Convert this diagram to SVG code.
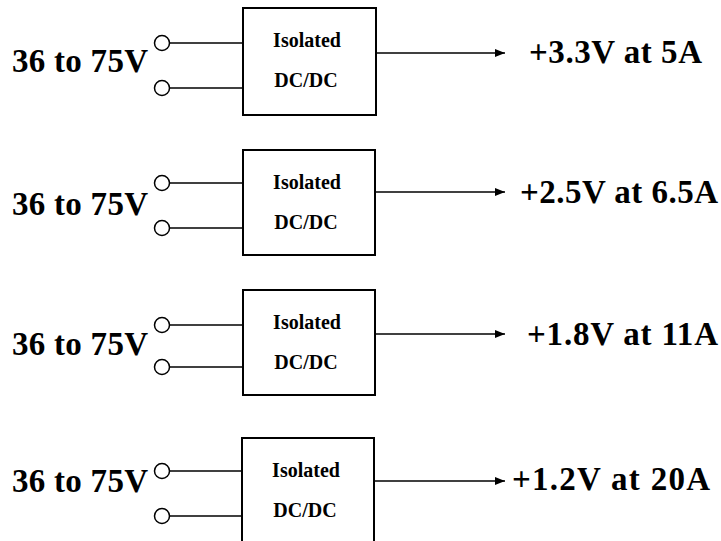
<svg xmlns="http://www.w3.org/2000/svg" width="721" height="541" viewBox="0 0 721 541">
  <style>
    .box { fill: #ffffff; stroke: #000000; stroke-width: 2; }
    .term { fill: #ffffff; stroke: #000000; stroke-width: 1.5; }
    .wire { fill: none; stroke: #000000; stroke-width: 1.4; }
    .in, .out { font-family: "Liberation Serif", "Times New Roman", serif; font-weight: bold; font-size: 33px; fill: #000000; }
    .lbl { font-family: "Liberation Serif", "Times New Roman", serif; font-weight: bold; font-size: 20px; fill: #000000; text-anchor: middle; }
  </style>
  <defs>
    <marker id="arrow" viewBox="0 0 10 8" refX="10" refY="4" markerWidth="10" markerHeight="8" markerUnits="userSpaceOnUse" orient="auto">
      <path d="M0,0 L10,4 L0,8 z" fill="#000000"/>
    </marker>
  </defs>
  <rect width="721" height="541" fill="#ffffff"/>

  <!-- connectors: input wires and output arrows -->
  <g id="connectors">
    <line class="wire" x1="170" y1="43" x2="243" y2="43"/>
    <line class="wire" x1="170" y1="88" x2="243" y2="88"/>
    <line class="wire" x1="376" y1="53" x2="505" y2="53" marker-end="url(#arrow)"/>

    <line class="wire" x1="170" y1="183" x2="243" y2="183"/>
    <line class="wire" x1="170" y1="228" x2="243" y2="228"/>
    <line class="wire" x1="375" y1="192" x2="505" y2="192" marker-end="url(#arrow)"/>

    <line class="wire" x1="170" y1="325" x2="243" y2="325"/>
    <line class="wire" x1="170" y1="367" x2="243" y2="367"/>
    <line class="wire" x1="375" y1="334" x2="505" y2="334" marker-end="url(#arrow)"/>

    <line class="wire" x1="170" y1="471" x2="242" y2="471"/>
    <line class="wire" x1="170" y1="516" x2="242" y2="516"/>
    <line class="wire" x1="374" y1="481" x2="505" y2="481" marker-end="url(#arrow)"/>
  </g>

  <!-- converter 1 -->
  <g id="conv1">
    <text class="in" x="12" y="72" textLength="136" lengthAdjust="spacing">36 to 75V</text>
    <circle class="term" cx="162" cy="43" r="7.5"/>
    <circle class="term" cx="162" cy="88" r="7.5"/>
    <rect class="box" x="243" y="8" width="133" height="107"/>
    <text class="lbl" x="307" y="47">Isolated</text>
    <text class="lbl" x="306" y="87">DC/DC</text>
    <text class="out" x="529" y="63" textLength="173" lengthAdjust="spacing">+3.3V at 5A</text>
  </g>

  <!-- converter 2 -->
  <g id="conv2">
    <text class="in" x="12" y="215" textLength="136" lengthAdjust="spacing">36 to 75V</text>
    <circle class="term" cx="162" cy="183" r="7.5"/>
    <circle class="term" cx="162" cy="228" r="7.5"/>
    <rect class="box" x="243" y="150" width="132" height="105"/>
    <text class="lbl" x="307" y="189">Isolated</text>
    <text class="lbl" x="306" y="229">DC/DC</text>
    <text class="out" x="520" y="203" textLength="198" lengthAdjust="spacing">+2.5V at 6.5A</text>
  </g>

  <!-- converter 3 -->
  <g id="conv3">
    <text class="in" x="12" y="355" textLength="136" lengthAdjust="spacing">36 to 75V</text>
    <circle class="term" cx="162" cy="325" r="7.5"/>
    <circle class="term" cx="162" cy="367" r="7.5"/>
    <rect class="box" x="243" y="290" width="132" height="105"/>
    <text class="lbl" x="307" y="329">Isolated</text>
    <text class="lbl" x="306" y="369">DC/DC</text>
    <text class="out" x="527" y="345" textLength="191" lengthAdjust="spacing">+1.8V at 11A</text>
  </g>

  <!-- converter 4 -->
  <g id="conv4">
    <text class="in" x="12" y="492" textLength="136" lengthAdjust="spacing">36 to 75V</text>
    <circle class="term" cx="162" cy="471" r="7.5"/>
    <circle class="term" cx="162" cy="516" r="7.5"/>
    <rect class="box" x="242" y="438" width="132" height="107"/>
    <text class="lbl" x="306" y="477">Isolated</text>
    <text class="lbl" x="305" y="517">DC/DC</text>
    <text class="out" x="512" y="490" textLength="198" lengthAdjust="spacing">+1.2V at 20A</text>
  </g>
</svg>
